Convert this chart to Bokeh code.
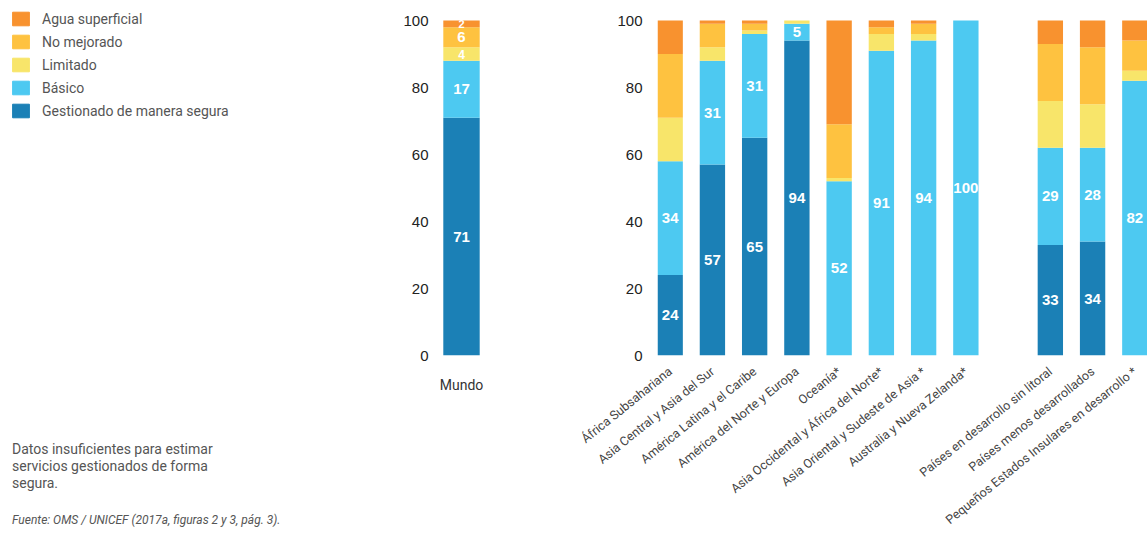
import math
from bokeh.plotting import figure
from bokeh.models import (ColumnDataSource, FactorRange, Range1d, Legend, LegendItem,
                          FixedTicker, Div)
from bokeh.layouts import row, column
from bokeh.embed import file_html
from bokeh.resources import INLINE
from bokeh.core.properties import value

# ---------------- data ----------------
series = ["Gestionado de manera segura", "Básico", "Limitado", "No mejorado", "Agua superficial"]
keys = ["safe", "basic", "limited", "unimproved", "surface"]
colors = ["#1B80B6", "#4DC9F1", "#F8E56A", "#FEC240", "#F8922F"]

world_category = ["Mundo"]
world_safe = [71]
world_basic = [17]
world_limited = [4]
world_unimproved = [6]
world_surface = [2]

regions = [
    "África Subsahariana",
    "Asia Central y Asia del Sur",
    "América Latina y el Caribe",
    "América del Norte y Europa",
    "Oceanía*",
    "Asia Occidental y África del Norte*",
    "Asia Oriental y Sudeste de Asia *",
    "Australia y Nueva Zelanda*",
    "Países en desarrollo sin litoral",
    "Países menos desarrollados",
    "Pequeños Estados Insulares en desarrollo *",
]
gap_after = 8  # empty slot between regional groups and country groups
safe = [24, 57, 65, 94, 0, 0, 0, 0, 33, 34, 0]
basic = [34, 31, 31, 5, 52, 91, 94, 100, 29, 28, 82]
limited = [13, 4, 1, 1, 1, 5, 2, 0, 14, 13, 3]
unimproved = [19, 7, 2, 0, 16, 2, 3, 0, 17, 17, 9]
surface = [10, 1, 1, 0, 31, 2, 1, 0, 7, 8, 6]

y_ticks = [0, 20, 40, 60, 80, 100]

notes = ["Datos insuficientes para estimar", "servicios gestionados de forma", "segura."]
source_note = "Fuente: OMS / UNICEF (2017a, figuras 2 y 3, pág. 3)."

# ---------------- layout constants ----------------
TICK_FONT = "Liberation Sans"
TEXT_FONT = "Roboto"
FRAME_H = 355          # frame spans page pixels 0..355 (value 100 sits at px 20)
BOTTOM = 180
Y_END = 100 * FRAME_H / (FRAME_H - 20)
NAN = float("nan")


def style_axes(p):
    p.grid.visible = False
    p.outline_line_color = None
    p.axis.axis_line_color = None
    p.axis.major_tick_line_color = None
    p.axis.minor_tick_line_color = None
    p.yaxis.ticker = FixedTicker(ticks=y_ticks)
    p.yaxis.major_label_text_font = TICK_FONT
    p.yaxis.major_label_text_font_size = "15px"
    p.yaxis.major_label_text_color = "#222222"


# ---------------- left panel: legend ----------------
p0 = figure(width=400, height=420, x_range=Range1d(0, 400), y_range=Range1d(0, 1),
            min_border=0, x_axis_location=None, y_axis_location=None,
            output_backend="svg", toolbar_location=None)
p0.grid.visible = False
p0.outline_line_color = None

items = []
for name, c in reversed(list(zip(series, colors))):
    # legend-only renderer: one NaN row so the swatch is drawn but no bar appears
    r = p0.vbar(x=[NAN], top=[NAN], width=1, fill_color=c, line_color=c)
    items.append(LegendItem(label=name, renderers=[r]))
legend = Legend(items=items, location="top_left", margin=10, padding=0,
                glyph_width=21, glyph_height=17, label_height=17, spacing=6,
                label_standoff=11, border_line_color=None, background_fill_alpha=0,
                label_text_font=TEXT_FONT, label_text_font_size="14px",
                label_text_color="#555555")
p0.add_layout(legend)

notes_html = (
    '<div style="font-family:Roboto;font-size:14px;line-height:17px;color:#555555;'
    'margin:21px 0 0 12px;">' + "<br>".join(notes) + "</div>"
    '<div style="font-family:Roboto;font-size:12px;line-height:15px;font-style:italic;'
    'color:#555555;margin:21px 0 0 12px;">' + source_note + "</div>"
)
notes_div = Div(text=notes_html, width=400, height=115, margin=0)

# ---------------- world bar ----------------
wsrc = ColumnDataSource(dict(cat=world_category, safe=world_safe, basic=world_basic,
                             limited=world_limited, unimproved=world_unimproved,
                             surface=world_surface))
p1 = figure(x_range=FactorRange(factors=world_category), y_range=Range1d(0, Y_END),
            width=175, height=535, min_border_left=37, min_border_right=94,
            min_border_top=0, min_border_bottom=BOTTOM,
            output_backend="svg", toolbar_location=None)
p1.vbar_stack(keys, x="cat", width=0.91, color=colors, source=wsrc, line_width=0)
style_axes(p1)
p1.yaxis.major_label_standoff = 7
p1.xaxis.major_label_standoff = 15
p1.xaxis.major_label_text_font = TEXT_FONT
p1.xaxis.major_label_text_font_size = "14px"
p1.xaxis.major_label_text_color = "#333333"

wl = dict(x=[], y=[], text=[], size=[])
bottom = 0
world_vals = [world_safe[0], world_basic[0], world_limited[0], world_unimproved[0], world_surface[0]]
for v in world_vals:
    wl["x"].append(world_category[0])
    wl["y"].append(bottom + v / 2)
    wl["text"].append(str(v))
    wl["size"].append("15px" if v >= 5 else ("12px" if v >= 3 else "11px"))
    bottom += v
p1.text(x="x", y="y", text="text", text_font_size="size", source=ColumnDataSource(wl),
        text_font=value(TICK_FONT), text_font_style="bold", text_color="white",
        text_align="center", text_baseline="middle")

# ---------------- regional bars ----------------
factors = regions[:gap_after] + [" "] + regions[gap_after:]
rsrc = ColumnDataSource(dict(cat=regions, safe=safe, basic=basic, limited=limited,
                             unimproved=unimproved, surface=surface))
p2 = figure(x_range=FactorRange(factors=factors, range_padding=-0.2,
                                range_padding_units="absolute"),
            y_range=Range1d(0, Y_END), width=572, height=535,
            min_border_left=82, min_border_right=0, min_border_top=0, min_border_bottom=BOTTOM,
            output_backend="svg", toolbar_location=None)
p2.vbar_stack(keys, x="cat", width=0.6, color=colors, source=rsrc, line_width=0)
style_axes(p2)
p2.yaxis.major_label_standoff = 9
p2.xaxis.major_label_orientation = 0.68
p2.xaxis.major_label_standoff = 8
p2.xaxis.major_label_text_font = TEXT_FONT
p2.xaxis.major_label_text_font_size = "12.5px"
p2.xaxis.major_label_text_color = "#444444"

rl = dict(x=[], y=[], text=[])
for i, cat in enumerate(regions):
    b = 0
    for v in (safe[i], basic[i]):
        if v > 0:
            rl["x"].append(cat)
            rl["y"].append(b + v / 2)
            rl["text"].append(str(v))
        b += v
p2.text(x="x", y="y", text="text", source=ColumnDataSource(rl),
        text_font=value(TICK_FONT), text_font_size="15px", text_font_style="bold",
        text_color="white", text_align="center", text_baseline="middle")

layout = row(column(p0, notes_div), p1, p2)
open("out.html", "w").write(file_html(layout, INLINE))
